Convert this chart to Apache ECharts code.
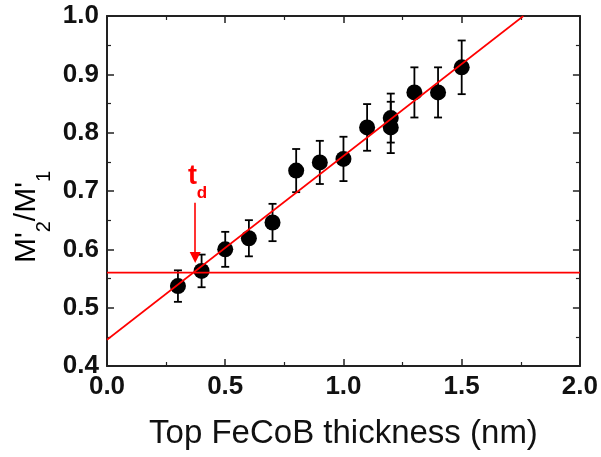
<!DOCTYPE html>
<html>
<head>
<meta charset="utf-8">
<script src="https://cdn.jsdelivr.net/npm/echarts@6/dist/echarts.min.js"></script>
<style>html,body{margin:0;padding:0;background:#fff}#c{width:601px;height:457px}</style>
</head>
<body>
<div id="c"></div>
<script>
// Data
const thickness = [0.3, 0.4, 0.5, 0.6, 0.7, 0.8, 0.9, 1.0, 1.1, 1.2, 1.2, 1.3, 1.4, 1.5];
const ratio     = [0.537, 0.563, 0.600, 0.619, 0.646, 0.735, 0.749, 0.755, 0.809, 0.825, 0.809, 0.869, 0.869, 0.912];
const ratioErr  = [0.027, 0.028, 0.030, 0.031, 0.032, 0.037, 0.037, 0.038, 0.040, 0.042, 0.044, 0.043, 0.043, 0.046];
const fitLine   = [[0, 0.445], [1.761, 1.0]];
const thresholdLevel = 0.56;
const thresholdRange = [0, 2];
const tdArrow = { x: 0.373, from: 0.68, to: 0.586 };
const tdLabelPos = [0.383, 0.724];
const xTickRange = { min: 0, max: 2, interval: 0.5 };
const yTickRange = { min: 0.4, max: 1.0, interval: 0.1 };

const FONT = "'Liberation Sans', Arial, sans-serif";
const AX = '#222';

const points = thickness.map((x, i) => [x, ratio[i]]);
const errData = thickness.map((x, i) => [x, ratio[i], ratioErr[i]]);

function axisBase(show, pos) {
  return {
    type: 'value', position: pos,
    axisLine: { show: true, onZero: false, lineStyle: { color: AX, width: 2 } },
    axisTick: { show: true, inside: true, length: 7, lineStyle: { color: AX, width: 1.5 } },
    minorTick: { show: true, splitNumber: 2, length: 4, lineStyle: { color: AX, width: 1.2 } },
    splitLine: { show: false },
    axisLabel: show ? {
      show: true, fontFamily: FONT, fontWeight: 'bold', fontSize: 26, color: '#111',
      formatter: v => v.toFixed(1)
    } : { show: false }
  };
}

const chart = echarts.init(document.getElementById('c'), null, { renderer: 'canvas' });
chart.setOption({
  animation: false,
  grid: { left: 107, right: 20, top: 16, bottom: 91 },
  xAxis: [
    Object.assign(axisBase(true, 'bottom'), {
      min: xTickRange.min, max: xTickRange.max, interval: xTickRange.interval,
      name: 'Top FeCoB thickness (nm)', nameLocation: 'middle', nameGap: 51,
      nameTextStyle: { fontFamily: FONT, fontSize: 33, color: '#111' },
      axisLabel: Object.assign(axisBase(true).axisLabel, { margin: 8 })
    }),
    Object.assign(axisBase(false, 'top'), {
      min: xTickRange.min, max: xTickRange.max, interval: xTickRange.interval
    })
  ],
  yAxis: [
    Object.assign(axisBase(true, 'left'), {
      min: yTickRange.min, max: yTickRange.max, interval: yTickRange.interval,
      axisLabel: Object.assign(axisBase(true).axisLabel, { margin: 8 })
    }),
    Object.assign(axisBase(false, 'right'), {
      min: yTickRange.min, max: yTickRange.max, interval: yTickRange.interval
    })
  ],
  graphic: [{
    type: 'text', x: 27, y: 217, rotation: Math.PI / 2,
    style: {
      text: "{m|M'}{s|2}{m|/M'}{s|1}",
      align: 'center', verticalAlign: 'middle',
      rich: {
        m: { fontFamily: FONT, fontSize: 30, color: '#111', lineHeight: 54, verticalAlign: 'middle' },
        s: { fontFamily: FONT, fontSize: 20, color: '#111', lineHeight: 18, verticalAlign: 'bottom' }
      }
    }
  }],
  series: [
    {
      type: 'custom', name: 'err', z: 2,
      data: errData,
      renderItem: function (params, api) {
        const x = api.value(0), y = api.value(1), e = api.value(2);
        const top = api.coord([x, y + e]);
        const bot = api.coord([x, y - e]);
        const hw = 4;
        const st = { stroke: '#000', lineWidth: 1.8 };
        return {
          type: 'group', children: [
            { type: 'line', shape: { x1: top[0], y1: top[1], x2: bot[0], y2: bot[1] }, style: st },
            { type: 'line', shape: { x1: top[0] - hw, y1: top[1], x2: top[0] + hw, y2: top[1] }, style: st },
            { type: 'line', shape: { x1: bot[0] - hw, y1: bot[1], x2: bot[0] + hw, y2: bot[1] }, style: st }
          ]
        };
      }
    },
    {
      type: 'scatter', z: 3, symbol: 'circle', symbolSize: 16,
      itemStyle: { color: '#000', opacity: 1 },
      data: points
    },
    {
      type: 'line', z: 4, data: fitLine, symbol: 'none',
      lineStyle: { color: '#ff0000', width: 1.6 }
    },
    {
      type: 'line', z: 4, data: thresholdRange.map(x => [x, thresholdLevel]), symbol: 'none',
      lineStyle: { color: '#ff0000', width: 1.6 },
      markLine: {
        silent: true, symbol: ['none', 'triangle'], symbolSize: 11,
        lineStyle: { color: '#ff0000', width: 1.6, type: 'solid' },
        label: { show: false },
        data: [[{ coord: [tdArrow.x, tdArrow.from] }, { coord: [tdArrow.x, tdArrow.to] }]]
      },
      markPoint: {
        silent: true, symbol: 'circle', symbolSize: 0,
        label: {
          show: true, position: 'inside',
          formatter: '{t|t}{d|d}',
          rich: {
            t: { fontFamily: FONT, fontSize: 27, fontWeight: 'bold', color: '#ff0000', lineHeight: 50, verticalAlign: 'middle' },
            d: { fontFamily: FONT, fontSize: 17, fontWeight: 'bold', color: '#ff0000', lineHeight: 14, verticalAlign: 'bottom' }
          }
        },
        data: [{ coord: tdLabelPos }]
      }
    }
  ]
});
</script>
</body>
</html>
